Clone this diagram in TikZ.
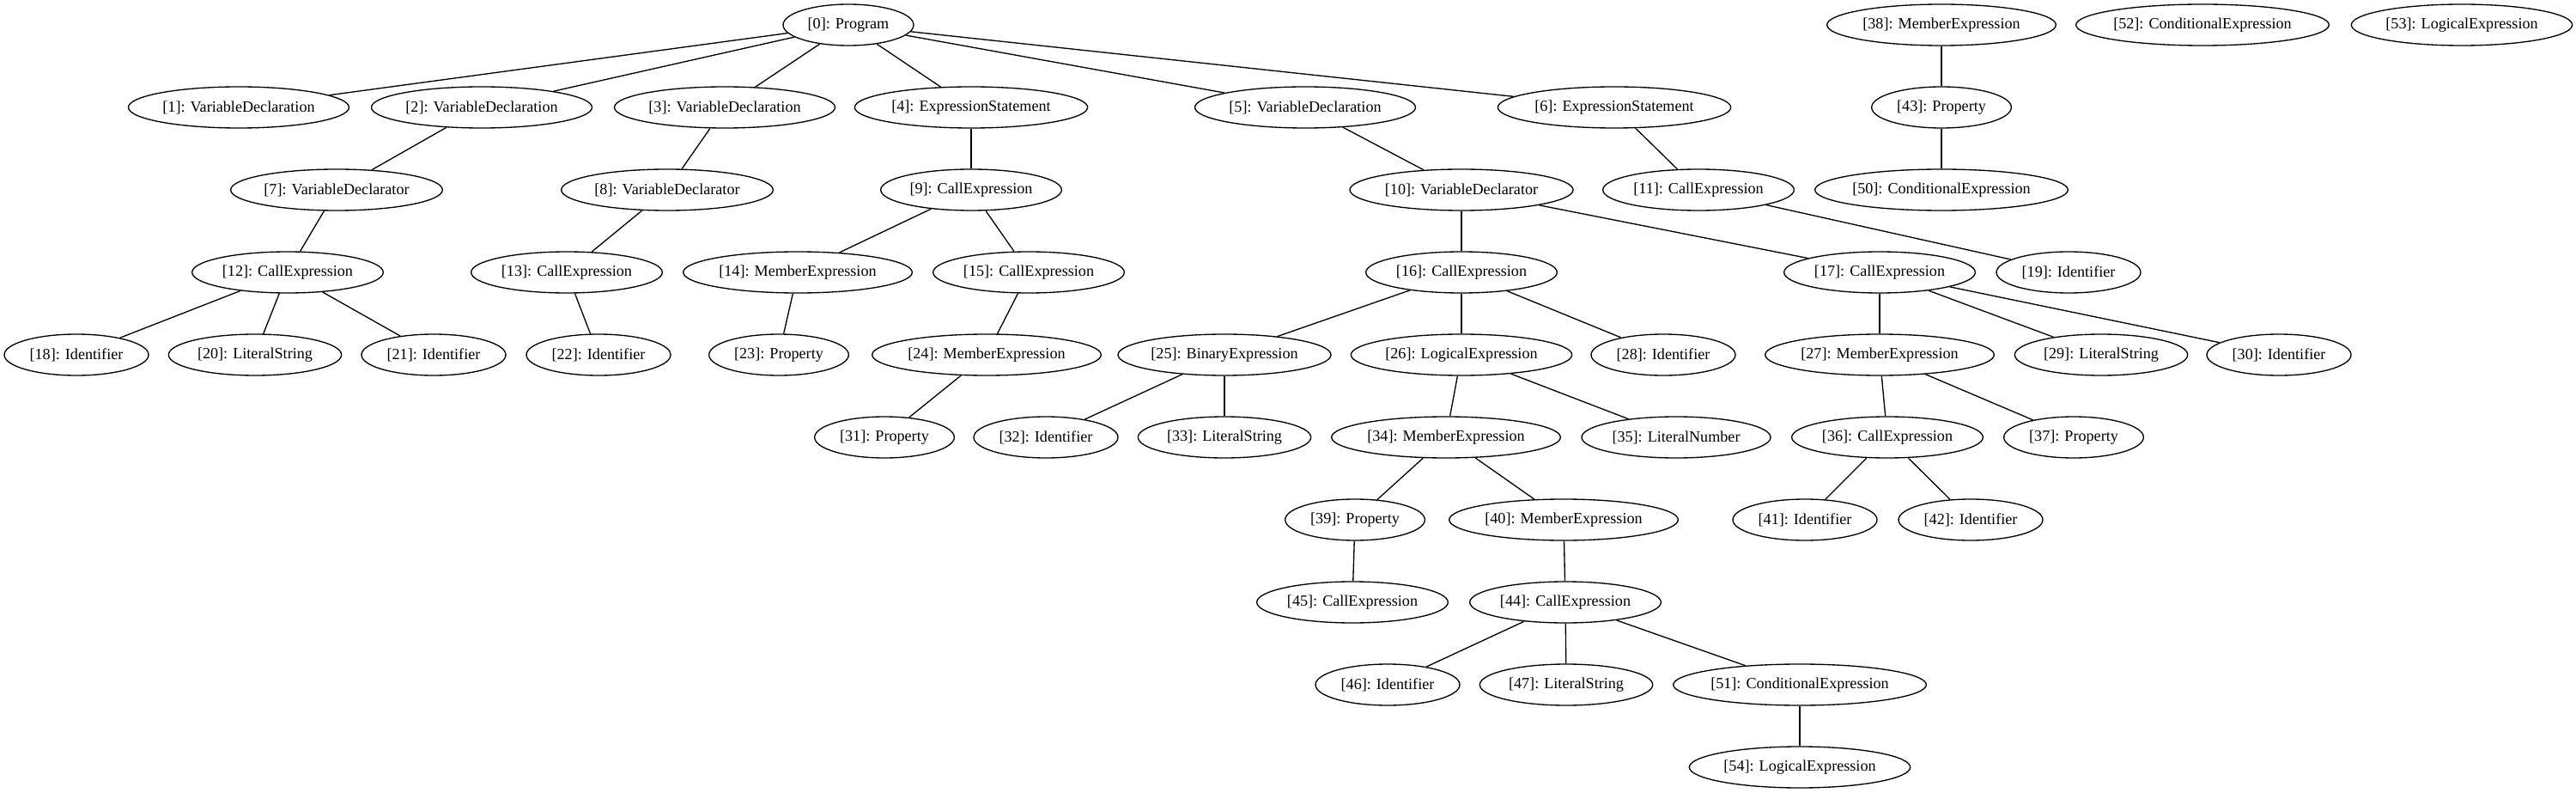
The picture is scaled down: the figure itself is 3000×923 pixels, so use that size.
\documentclass[tikz,border=0pt]{standalone}
\usepackage{fontspec}
\setmainfont{Liberation Serif}
\usetikzlibrary{shapes.geometric}
\tikzset{
  el/.style={draw, ellipse, line width=1pt, inner sep=0pt, minimum height=36pt,
    font=\fontsize{13.6pt}{16pt}\selectfont},
  prog/.style={el, minimum width=114pt},
  vdecl/.style={el, minimum width=192.75pt},
  vdtor/.style={el, minimum width=185pt},
  estmt/.style={el, minimum width=203.5pt},
  callx/.style={el, minimum width=167pt},
  membx/.style={el, minimum width=200pt},
  ident/.style={el, minimum width=126pt},
  litstr/.style={el, minimum width=151pt},
  propy/.style={el, minimum width=122pt},
  binx/.style={el, minimum width=186pt},
  logx/.style={el, minimum width=193pt},
  litnum/.style={el, minimum width=165pt},
  condx/.style={el, minimum width=221pt},
  edge/.style={line width=1pt}
}
\begin{document}
\begin{tikzpicture}[x=0.75pt, y=-0.75pt]
\useasboundingbox (0,0) rectangle (3000,923);
% row 0
\node[prog]  (n0)  at (988,29)  {[0]: Program};
\node[membx] (n38) at (2261,29) {[38]: MemberExpression};
\node[condx] (n52) at (2565,29) {[52]: ConditionalExpression};
\node[logx]  (n53) at (2867,29) {[53]: LogicalExpression};
% row 1
\node[vdecl] (n1) at (278,125)  {[1]: VariableDeclaration};
\node[vdecl] (n2) at (561,125)  {[2]: VariableDeclaration};
\node[vdecl] (n3) at (844,125)  {[3]: VariableDeclaration};
\node[estmt] (n4) at (1131,125) {[4]: ExpressionStatement};
\node[vdecl] (n5) at (1520,125) {[5]: VariableDeclaration};
\node[estmt] (n6) at (1880,125) {[6]: ExpressionStatement};
\node[propy] (n43) at (2261,125) {[43]: Property};
% row 2
\node[vdtor] (n7) at (392,221)  {[7]: VariableDeclarator};
\node[vdtor] (n8) at (777,221)  {[8]: VariableDeclarator};
\node[callx, minimum width=158pt] (n9) at (1131,221) {[9]: CallExpression};
\node[vdtor, minimum width=195pt] (n10) at (1702,221) {[10]: VariableDeclarator};
\node[callx] (n11) at (1978,221) {[11]: CallExpression};
\node[condx] (n50) at (2261,221) {[50]: ConditionalExpression};
% row 3
\node[callx] (n12) at (335,317)  {[12]: CallExpression};
\node[callx] (n13) at (660,317)  {[13]: CallExpression};
\node[membx] (n14) at (929,317)  {[14]: MemberExpression};
\node[callx] (n15) at (1198,317) {[15]: CallExpression};
\node[callx] (n16) at (1702,317) {[16]: CallExpression};
\node[callx] (n17) at (2189,317) {[17]: CallExpression};
\node[ident] (n19) at (2409,317) {[19]: Identifier};
% row 4
\node[ident]  (n18) at (89,413)   {[18]: Identifier};
\node[litstr] (n20) at (297,413)  {[20]: LiteralString};
\node[ident]  (n21) at (505,413)  {[21]: Identifier};
\node[ident]  (n22) at (697,413)  {[22]: Identifier};
\node[propy]  (n23) at (907,413)  {[23]: Property};
\node[membx]  (n24) at (1149,413) {[24]: MemberExpression};
\node[binx]   (n25) at (1426,413) {[25]: BinaryExpression};
\node[logx]   (n26) at (1702,413) {[26]: LogicalExpression};
\node[ident]  (n28) at (1937,413) {[28]: Identifier};
\node[membx]  (n27) at (2189,413) {[27]: MemberExpression};
\node[litstr] (n29) at (2447,413) {[29]: LiteralString};
\node[ident]  (n30) at (2654,413) {[30]: Identifier};
% row 5
\node[propy]  (n31) at (1030,509) {[31]: Property};
\node[ident]  (n32) at (1218,509) {[32]: Identifier};
\node[litstr] (n33) at (1426,509) {[33]: LiteralString};
\node[membx]  (n34) at (1684,509) {[34]: MemberExpression};
\node[litnum] (n35) at (1952,509) {[35]: LiteralNumber};
\node[callx]  (n36) at (2198,509) {[36]: CallExpression};
\node[propy]  (n37) at (2415,509) {[37]: Property};
% row 6
\node[propy] (n39) at (1578,605) {[39]: Property};
\node[membx] (n40) at (1821,605) {[40]: MemberExpression};
\node[ident] (n41) at (2102,605) {[41]: Identifier};
\node[ident] (n42) at (2295,605) {[42]: Identifier};
% row 7
\node[callx] (n45) at (1575,701) {[45]: CallExpression};
\node[callx] (n44) at (1823,701) {[44]: CallExpression};
% row 8
\node[ident]  (n46) at (1616,797) {[46]: Identifier};
\node[litstr] (n47) at (1824,797) {[47]: LiteralString};
\node[condx]  (n51) at (2096,797) {[51]: ConditionalExpression};
% row 9
\node[logx] (n54) at (2096,893) {[54]: LogicalExpression};
% edges
\foreach \a/\b in {n0/n1,n0/n2,n0/n3,n0/n4,n0/n5,n0/n6,
  n2/n7,n3/n8,n4/n9,n5/n10,n6/n11,
  n7/n12,n8/n13,n9/n14,n9/n15,n10/n16,n10/n17,n11/n19,
  n12/n18,n12/n20,n12/n21,n13/n22,n14/n23,n15/n24,n16/n25,n16/n26,n16/n28,
  n17/n27,n17/n29,n17/n30,
  n24/n31,n25/n32,n25/n33,n26/n34,n26/n35,n27/n36,n27/n37,
  n34/n39,n34/n40,n36/n41,n36/n42,
  n39/n45,n40/n44,
  n44/n46,n44/n47,n44/n51,n51/n54,
  n38/n43,n43/n50}
  \draw[edge] (\a) -- (\b);
\end{tikzpicture}
\end{document}
